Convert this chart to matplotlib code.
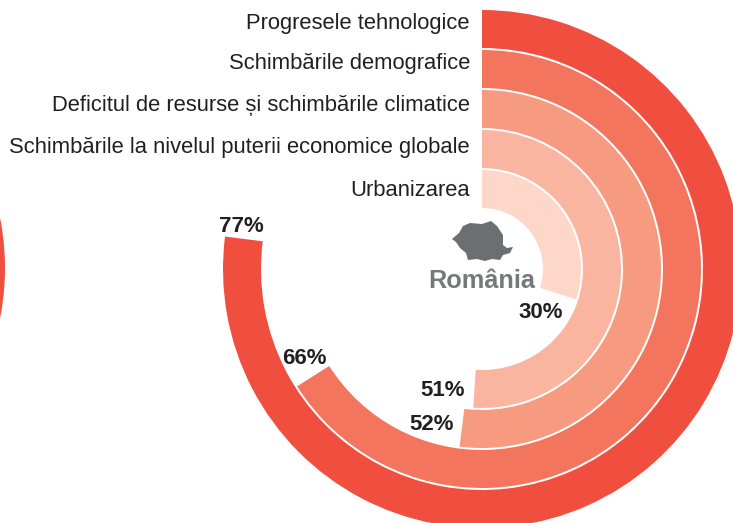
#!/usr/bin/env python3
# -*- coding: utf-8 -*-
import numpy as np
import matplotlib
matplotlib.use('Agg')
import matplotlib.pyplot as plt
from matplotlib.patches import Polygon, Wedge

plt.rcParams['font.family'] = ['Liberation Sans', 'DejaVu Sans']

W, H = 733, 523

labels = ['Progresele tehnologice', 'Schimbările demografice',
          'Deficitul de resurse și schimbările climatice',
          'Schimbările la nivelul puterii economice globale', 'Urbanizarea']
values = [77, 66, 52, 51, 30]
colors = ['#f04e3e', '#f3755e', '#f69a80', '#fab5a0', '#fdd8c9']
label_y = [23, 64, 106, 148, 191]
pct_xy = [(241, 226), (304, 359), (432, 424), (443, 391), (541, 312)]

cx, cy = 482, 269
R = 260
ring_w = 38
ring_step = 40

# romania outline, pixel positions
romania = [(452, 239), (459, 233), (463, 226), (470, 223), (482, 224), (491, 221),
           (497, 226), (503, 235), (503, 245), (507, 248), (513, 247), (510, 253),
           (503, 255), (500, 260), (492, 259), (485, 261), (477, 259), (468, 260),
           (466, 253), (460, 248), (456, 242)]

fig = plt.figure(figsize=(W/100, H/100), dpi=100)

ax = fig.add_axes([(cx-R)/W, (H-cy-R)/H, 2*R/W, 2*R/H], projection='polar')
ax.set_theta_zero_location('N')
ax.set_theta_direction(-1)
ax.set_ylim(0, R)
ax.axis('off')
for i, v in enumerate(values):
    r_out = 259 - i*ring_step
    ax.bar(0, ring_w, width=v/100*2*np.pi, bottom=r_out-ring_w, align='edge',
           color=colors[i], linewidth=0)

# overlay in pixel coordinates
ov = fig.add_axes([0, 0, 1, 1])
ov.set_xlim(0, W)
ov.set_ylim(H, 0)
ov.axis('off')
ov.patch.set_alpha(0)

# piece of the neighbouring chart, cut by the left edge
ov.add_patch(Wedge((-254, 268), 259, -15, 15, width=38, color='#f04e3e', lw=0))
ov.add_patch(Polygon(romania, closed=True, color='#6d6e71', lw=0))

for lab, y in zip(labels, label_y):
    ov.text(470, y, lab, ha='right', va='center', fontsize=15.85, color='#231f20')
for v, (x, y) in zip(values, pct_xy):
    ov.text(x, y, '%d%%' % v, ha='center', va='center', fontsize=16,
            fontweight='bold', color='#231f20')
ov.text(482, 281, 'România', ha='center', va='center', fontsize=18.2,
        fontweight='bold', color='#77787b')

plt.savefig('out.png', dpi=100)
